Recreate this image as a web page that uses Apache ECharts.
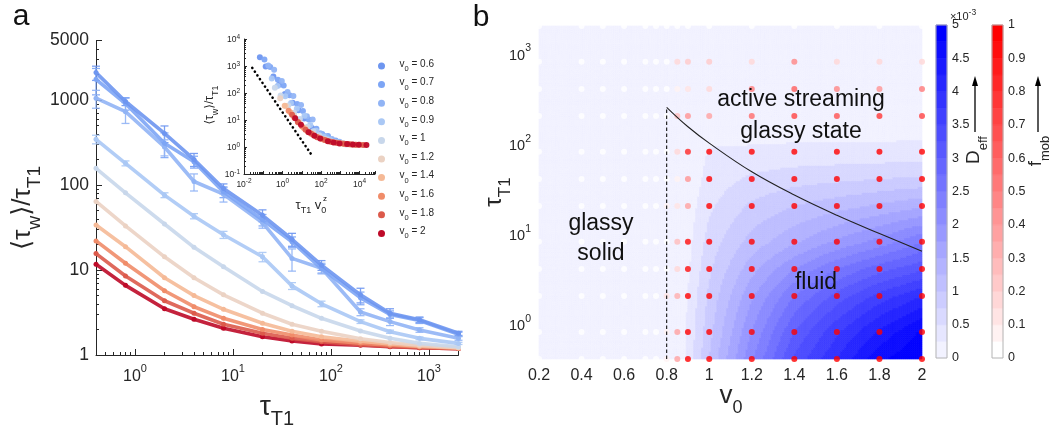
<!DOCTYPE html>
<html>
<head>
<meta charset="utf-8">
<script src="https://cdn.jsdelivr.net/npm/echarts@6/dist/echarts.min.js"></script>
<style>
  html, body { margin: 0; background: #fff; }
  #chart { width: 1053px; height: 435px; }
</style>
</head>
<body>
<div id="chart"></div>
<script>
// ---- panel a data ----
const tau = [0.4, 0.8, 2, 4, 8, 20, 40, 80, 200, 400, 800, 2000];
const v0Names = ['0.6', '0.7', '0.8', '0.9', '1', '1.2', '1.4', '1.6', '1.8', '2'];
const v0Colors = ['#6e96f0', '#7da5f5', '#91b4f5', '#aac8f5', '#c8d7eb',
                  '#ebd2c3', '#f5b996', '#f08c69', '#dc5a4b', '#be0a28'];

const tw_06 = [2100, 960, 405, 200, 91, 44, 23, 11.4, 5.1, 3.1, 2.6, 1.8];
const tw_07 = [1750, 910, 310, 188, 83, 39, 21.5, 10.4, 4.7, 3.0, 2.55, 1.75];
const tw_08 = [1050, 730, 280, 110, 78, 36, 13.7, 10.5, 3.2, 2.47, 1.97, 1.57];
const tw_09 = [345, 180, 76, 43, 26, 14.3, 6.5, 4.0, 2.47, 1.88, 1.57, 1.37];
const tw_1  = [157, 81, 34.8, 18.5, 10.9, 5.6, 3.8, 2.7, 1.92, 1.57, 1.37, 1.25];
const tw_12 = [64, 33, 14.3, 8.1, 5.1, 3.1, 2.3, 1.9, 1.55, 1.4, 1.3, 1.22];
const tw_14 = [33.8, 18.8, 8.1, 5.0, 3.45, 2.36, 1.9, 1.64, 1.45, 1.35, 1.27, 1.21];
const tw_16 = [22, 12, 5.7, 3.7, 2.7, 2.0, 1.72, 1.5, 1.38, 1.3, 1.25, 1.2];
const tw_18 = [15.6, 8.5, 4.35, 3.1, 2.3, 1.8, 1.57, 1.43, 1.32, 1.26, 1.22, 1.19];
const tw_2  = [11.7, 6.6, 3.5, 2.63, 2.06, 1.64, 1.46, 1.35, 1.3, 1.25, 1.22, 1.19];

// error bars (absolute, +/-) for the glassy-side curves
const err_06 = [400, 100, 90, 35, 12, 7, 4, 1.5, 1.0, 0.4, 0.2, 0.1];
const err_07 = [600, 150, 100, 30, 12, 6, 3, 1.2, 0.8, 0.3, 0.2, 0.1];
const err_08 = [250, 200, 60, 25, 15, 5, 4, 1.5, 0.3, 0.25, 0.12, 0.08];
const err_09 = [40, 12, 5, 3, 2.5, 1.8, 0.6, 0.3, 0.12, 0.08, 0.06, 0.04];

const twAll = [tw_06, tw_07, tw_08, tw_09, tw_1, tw_12, tw_14, tw_16, tw_18, tw_2];
const errAll = [err_06, err_07, err_08, err_09];

// inset: collapse tau_T1 * v0^z
const zExp = 3.5;
const guideX = [0.027, 30];
const guideY = [850, 0.55];

// ---- panel b data ----
const v0Grid = [0.2, 0.4, 0.5, 0.6, 0.7, 0.75, 0.8, 0.85, 0.9, 1, 1.2, 1.4, 1.6, 1.8, 2];
// D_eff (x1e-3), one row per tau value (ascending)
const deff = [
  [0, 0, 0, 0, 0, 0, 0, 0, 0.3, 1.0, 2.2, 3.3, 4.0, 4.7, 5.0],
  [0, 0, 0, 0, 0, 0, 0, 0, 0.3, 0.9, 2.0, 3.0, 3.7, 4.3, 4.8],
  [0, 0, 0, 0, 0, 0, 0, 0, 0.25, 0.8, 1.7, 2.5, 3.1, 3.6, 4.0],
  [0, 0, 0, 0, 0, 0, 0, 0, 0.2, 0.7, 1.4, 2.0, 2.5, 2.9, 3.2],
  [0, 0, 0, 0, 0, 0, 0, 0, 0.15, 0.6, 1.1, 1.45, 1.8, 2.1, 2.5],
  [0, 0, 0, 0, 0, 0, 0, 0, 0.1, 0.45, 0.8, 1.0, 1.15, 1.3, 1.45],
  [0, 0, 0, 0, 0, 0, 0, 0, 0.05, 0.35, 0.55, 0.65, 0.7, 0.75, 0.8],
  [0, 0, 0, 0, 0, 0, 0, 0, 0, 0.28, 0.3, 0.32, 0.33, 0.33, 0.35],
  [0, 0, 0, 0, 0, 0, 0, 0, 0, 0.05, 0.05, 0.05, 0.05, 0.05, 0.05],
  [0, 0, 0, 0, 0, 0, 0, 0, 0, 0, 0, 0, 0, 0, 0],
  [0, 0, 0, 0, 0, 0, 0, 0, 0, 0, 0, 0, 0, 0, 0],
  [0, 0, 0, 0, 0, 0, 0, 0, 0, 0, 0, 0, 0, 0, 0]
];
// f_mob, one row per tau value (ascending)
const fmob = [
  [0, 0, 0, 0, 0, 0, 0.08, 0.35, 1, 1, 1, 1, 1, 1, 1],
  [0, 0, 0, 0, 0, 0, 0.05, 0.35, 1, 1, 1, 1, 1, 1, 1],
  [0, 0, 0, 0, 0, 0, 0.12, 0.3, 0.95, 1, 1, 1, 1, 1, 1],
  [0, 0, 0, 0, 0, 0, 0.03, 0.15, 0.9, 1, 1, 1, 1, 1, 1],
  [0, 0, 0, 0, 0, 0, 0.03, 0.25, 0.9, 1, 1, 1, 1, 1, 1],
  [0, 0, 0, 0, 0, 0, 0.06, 0.12, 0.35, 1, 1, 1, 1, 1, 1],
  [0, 0, 0, 0, 0, 0, 0.03, 0.08, 0.4, 1, 1, 1, 1, 1, 1],
  [0, 0, 0, 0, 0, 0, 0.02, 0.15, 0.8, 1, 1, 1, 1, 1, 1],
  [0, 0, 0, 0, 0, 0, 0.02, 0.25, 0.4, 0.35, 0.55, 0.7, 0.65, 0.75, 0.7],
  [0, 0, 0, 0, 0, 0, 0, 0.08, 0.12, 0.15, 0.5, 0.6, 0.45, 0.4, 0.5],
  [0, 0, 0, 0, 0, 0, 0, 0.15, 0.2, 0.2, 0.15, 0.45, 0.15, 0.15, 0.15],
  [0, 0, 0, 0, 0, 0, 0, 0, 0, 0, 0, 0, 0, 0, 0]
];
const boundaryV0  = [0.8, 0.9, 1.0, 1.2, 1.4, 1.6, 1.8, 2.0];
const boundaryTau = [250, 152, 100, 48, 26.5, 15.8, 9.9, 6.3];
const glassLineTau = [0.4, 250];

const deffTicks = [0, 5];
const fmobTicks = [0, 1];
const nBands = 20;

// ---- helpers ----
const FONT = '"Liberation Sans", Arial, "DejaVu Sans", sans-serif';
const INK = '#262626';

function blueOf(t) {
  const c = Math.round(255 * (1 - t));
  return 'rgb(' + c + ',' + c + ',255)';
}
function redOf(t) {
  const c = Math.round(255 * (1 - t));
  return 'rgb(255,' + c + ',' + c + ')';
}
function deffColor(v) {
  const k = Math.min(nBands - 1, Math.max(0, Math.floor(v / (deffTicks[1] / nBands))));
  return blueOf((k + 1) / nBands);
}
function fmobColor(f) {
  const k = Math.min(nBands - 1, Math.max(0, Math.floor(f * nBands)));
  return redOf(k / (nBands - 1));
}
function supRich(b, p) {
  return {
    b: { fontSize: b, fontFamily: FONT, color: INK, verticalAlign: 'bottom', lineHeight: Math.round(b * 1.35) },
    p: { fontSize: p, fontFamily: FONT, color: INK, verticalAlign: 'top', lineHeight: p }
  };
}
function pow10Label(v) {
  const e = Math.round(Math.log10(v));
  return '{b|10}{p|' + e + '}';
}

// ---- series: panel a ----
const series = [];
twAll.forEach((arr, s) => {
  series.push({
    name: v0Names[s], type: 'line', xAxisIndex: 0, yAxisIndex: 0,
    data: tau.map((t, k) => [t, arr[k]]),
    symbol: 'circle', symbolSize: 5,
    itemStyle: { color: v0Colors[s] },
    lineStyle: { width: 3.6, color: v0Colors[s], opacity: 0.9 },
    z: 3 + (10 - s) * 0.01
  });
});
errAll.forEach((errs, s) => {
  series.push({
    type: 'custom', xAxisIndex: 0, yAxisIndex: 0,
    data: tau.map((t, k) => [t, twAll[s][k], errs[k]]),
    renderItem: (params, api) => {
      const x = api.value(0), y = api.value(1), e = api.value(2);
      const top = api.coord([x, y + e]);
      const bot = api.coord([x, Math.max(y - e, 1.01)]);
      const w = 4;
      const st = { stroke: v0Colors[s], lineWidth: 1.3, opacity: 0.9 };
      return {
        type: 'group', children: [
          { type: 'line', shape: { x1: top[0], y1: top[1], x2: bot[0], y2: bot[1] }, style: st },
          { type: 'line', shape: { x1: top[0] - w, y1: top[1], x2: top[0] + w, y2: top[1] }, style: st },
          { type: 'line', shape: { x1: bot[0] - w, y1: bot[1], x2: bot[0] + w, y2: bot[1] }, style: st }
        ]
      };
    },
    z: 2
  });
});
// inset
series.push({
  type: 'line', xAxisIndex: 1, yAxisIndex: 1,
  data: guideX.map((x, k) => [x, guideY[k]]),
  symbol: 'none',
  lineStyle: { color: '#000', width: 2.6, type: [0.1, 4.4], cap: 'round' },
  z: 3
});
twAll.forEach((arr, s) => {
  const v = parseFloat(v0Names[s]);
  series.push({
    name: v0Names[s], type: 'scatter', xAxisIndex: 1, yAxisIndex: 1,
    data: tau.map((t, k) => [t * Math.pow(v, zExp), arr[k]]),
    symbolSize: 6,
    itemStyle: { color: v0Colors[s], opacity: 0.95 },
    z: 4 + s * 0.01
  });
});

// ---- series: panel b ----
const cellItems = [];
for (let j = 0; j < tau.length - 1; j++)
  for (let i = 0; i < v0Grid.length - 1; i++)
    cellItems.push([v0Grid[i], tau[j], i, j]);

series.push({
  type: 'custom', xAxisIndex: 2, yAxisIndex: 2,
  data: cellItems,
  encode: { x: 0, y: 1 },
  silent: true,
  renderItem: (params, api) => {
    const i = api.value(2), j = api.value(3);
    const xa = v0Grid[i], xb = v0Grid[i + 1];
    const la = Math.log10(tau[j]), lb = Math.log10(tau[j + 1]);
    const c00 = deff[j][i], c10 = deff[j][i + 1], c01 = deff[j + 1][i], c11 = deff[j + 1][i + 1];
    const P0 = api.coord([xa, tau[j]]), P1 = api.coord([xb, tau[j + 1]]);
    const Nx = Math.max(2, Math.ceil(Math.abs(P1[0] - P0[0]) / 2));
    const Ny = Math.max(2, Math.ceil(Math.abs(P0[1] - P1[1]) / 2));
    const kids = [];
    for (let p = 0; p < Nx; p++) {
      for (let q = 0; q < Ny; q++) {
        const u = (p + 0.5) / Nx, w = (q + 0.5) / Ny;
        const val = c00 * (1 - u) * (1 - w) + c10 * u * (1 - w) + c01 * (1 - u) * w + c11 * u * w;
        const A = api.coord([xa + (xb - xa) * p / Nx, Math.pow(10, la + (lb - la) * q / Ny)]);
        const B = api.coord([xa + (xb - xa) * (p + 1) / Nx, Math.pow(10, la + (lb - la) * (q + 1) / Ny)]);
        const col = deffColor(val);
        kids.push({
          type: 'rect',
          shape: { x: A[0], y: B[1], width: B[0] - A[0], height: A[1] - B[1] },
          style: { fill: col, stroke: col, lineWidth: 0.7 }
        });
      }
    }
    return { type: 'group', children: kids };
  },
  z: 1
});
const dots = [];
tau.forEach((t, j) => v0Grid.forEach((v, i) => dots.push([v, t, fmob[j][i]])));
series.push({
  type: 'scatter', xAxisIndex: 2, yAxisIndex: 2,
  data: dots, symbolSize: 6,
  itemStyle: { color: p => fmobColor(p.data[2]) },
  z: 3
});
series.push({
  type: 'line', xAxisIndex: 2, yAxisIndex: 2,
  data: boundaryV0.map((v, k) => [v, boundaryTau[k]]),
  smooth: 0.4, symbol: 'none',
  lineStyle: { color: '#222', width: 1.1 }, z: 4
});
series.push({
  type: 'line', xAxisIndex: 2, yAxisIndex: 2,
  data: glassLineTau.map(t => [boundaryV0[0], t]),
  symbol: 'none',
  lineStyle: { color: '#111', width: 1.1, type: [3.5, 2.5] }, z: 4
});

// ---- colorbars ----
function bandItems(maxV) {
  const out = [];
  for (let k = 0; k < nBands; k++) out.push([k * maxV / nBands, (k + 1) * maxV / nBands, k]);
  return out;
}
function colorbarSeries(axisIdx, maxV, colorFn) {
  return [{
    type: 'custom', xAxisIndex: axisIdx, yAxisIndex: axisIdx,
    data: bandItems(maxV), encode: { y: 0 },
    renderItem: (params, api) => {
      const A = api.coord([0, api.value(0)]);
      const B = api.coord([1, api.value(1)]);
      const col = colorFn(api.value(2));
      return { type: 'rect', shape: { x: A[0], y: B[1], width: B[0] - A[0], height: A[1] - B[1] },
               style: { fill: col, stroke: col, lineWidth: 0.6 } };
    }
  }, {
    type: 'custom', xAxisIndex: axisIdx, yAxisIndex: axisIdx,
    data: [[0, maxV]], encode: { y: 1 },
    renderItem: (params, api) => {
      const A = api.coord([0, 0]);
      const B = api.coord([1, maxV]);
      return { type: 'rect', shape: { x: A[0], y: B[1], width: B[0] - A[0], height: A[1] - B[1] },
               style: { fill: 'none', stroke: '#b4b4b4', lineWidth: 1 } };
    },
    z: 5
  }];
}
series.push(...colorbarSeries(3, deffTicks[1], k => blueOf((k + 1) / nBands)));
series.push(...colorbarSeries(4, fmobTicks[1], k => redOf(k / (nBands - 1))));

// ---- axes ----
const logMain = {
  type: 'log', logBase: 10,
  splitLine: { show: false },
  axisLine: { show: true, lineStyle: { color: INK, width: 1 } },
  axisTick: { show: true, inside: true, length: 6, lineStyle: { color: INK } },
  minorTick: { show: true, splitNumber: 9, length: 3, lineStyle: { color: INK } },
  minorSplitLine: { show: false }
};

const xAxes = [
  Object.assign({}, logMain, {
    gridIndex: 0, min: 0.4, max: 2000,
    axisLabel: { showMinLabel: false, showMaxLabel: false, formatter: pow10Label, rich: supRich(16, 11), margin: 8 }
  }),
  Object.assign({}, logMain, {
    gridIndex: 1, min: 0.01, max: Math.pow(10, 4.8),
    axisTick: { show: true, inside: true, length: 3, lineStyle: { color: INK } },
    minorTick: { show: true, splitNumber: 9, length: 2, lineStyle: { color: INK } },
    axisLabel: {
      showMaxLabel: false, margin: 4, rich: supRich(8.5, 6.5),
      formatter: v => { const e = Math.round(Math.log10(v)); return e % 2 === 0 ? pow10Label(v) : ''; }
    }
  }),
  {
    gridIndex: 2, type: 'value', min: 0.2, max: 2, interval: 0.2,
    axisLine: { show: false }, axisTick: { show: false }, splitLine: { show: false },
    axisLabel: { fontSize: 16, fontFamily: FONT, color: INK, margin: 9, formatter: v => String(+v.toFixed(1)) }
  },
  { gridIndex: 3, type: 'value', min: 0, max: 1, show: false },
  { gridIndex: 4, type: 'value', min: 0, max: 1, show: false }
];

const yAxes = [
  Object.assign({}, logMain, {
    gridIndex: 0, min: 1, max: 5000,
    axisLabel: { fontSize: 17.5, fontFamily: FONT, color: INK, margin: 7, showMaxLabel: true, formatter: v => String(Math.round(v)) }
  }),
  Object.assign({}, logMain, {
    gridIndex: 1, min: 0.1, max: 10000,
    axisTick: { show: true, inside: true, length: 3, lineStyle: { color: INK } },
    minorTick: { show: true, splitNumber: 9, length: 2, lineStyle: { color: INK } },
    axisLabel: { margin: 4, rich: supRich(8.5, 6.5), formatter: pow10Label }
  }),
  {
    gridIndex: 2, type: 'log', logBase: 10, min: 0.4, max: 2000,
    axisLine: { show: false }, axisTick: { show: false }, splitLine: { show: false },
    minorTick: { show: false },
    axisLabel: { showMinLabel: false, showMaxLabel: false, margin: 8, rich: supRich(14.5, 10.5), formatter: pow10Label }
  },
  {
    gridIndex: 3, type: 'value', min: 0, max: deffTicks[1], interval: 0.5, position: 'right',
    axisLine: { show: false }, axisTick: { show: false }, splitLine: { show: false },
    axisLabel: { fontSize: 12.5, fontFamily: FONT, color: INK, margin: 5 }
  },
  {
    gridIndex: 4, type: 'value', min: 0, max: fmobTicks[1], interval: 0.1, position: 'right',
    axisLabel: { fontSize: 12.5, fontFamily: FONT, color: INK, margin: 5, formatter: v => String(+v.toFixed(1)) },
    axisLine: { show: false }, axisTick: { show: false }, splitLine: { show: false }
  }
];

// ---- annotations ----
function txt(x, y, text, size, rich, extra) {
  return Object.assign({
    type: 'text', x: x, y: y, z: 100,
    style: { text: text, fontSize: size, fontFamily: FONT, fill: '#111', align: 'center', verticalAlign: 'middle', rich: rich || {} }
  }, extra || {});
}
function subRich(b, s, color) {
  return {
    b: { fontSize: b, fontFamily: FONT, fill: color || INK, verticalAlign: 'top', lineHeight: Math.round(b * 1.3) },
    s: { fontSize: s, fontFamily: FONT, fill: color || INK, verticalAlign: 'bottom', lineHeight: s }
  };
}
function arrow(x, y1, y2) {
  return {
    type: 'group', z: 100, children: [
      { type: 'line', shape: { x1: x, y1: y1, x2: x, y2: y2 + 8 }, style: { stroke: '#000', lineWidth: 1.3 } },
      { type: 'polygon', shape: { points: [[x, y2], [x - 3, y2 + 10], [x + 3, y2 + 10]] }, style: { fill: '#000' } }
    ]
  };
}

const graphic = [
  txt(21, 17, 'a', 30),
  txt(481, 18, 'b', 30),
  txt(27, 208, '{b|⟨τ}{s|w}{b|⟩/τ}{s|T1}', 24, subRich(26, 19), { rotation: Math.PI / 2 }),
  txt(277, 411, '{b|τ}{s|T1}', 26, subRich(28, 20)),
  txt(212, 105, '{b|⟨τ}{s|w}{b|⟩/τ}{s|T1}', 11, subRich(12, 9), { rotation: Math.PI / 2 }),
  txt(311, 207, '{b|τ}{s|T1}{b| v}{s|0}', 12, subRich(13, 9)),
  txt(325, 199, 'z', 8),
  txt(498, 192, '{b|τ}{s|T1}', 22, subRich(24, 17), { rotation: Math.PI / 2 }),
  txt(731, 400, '{b|v}{s|0}', 24, subRich(26, 18)),
  txt(801, 100, 'active streaming', 23),
  txt(801, 132, 'glassy state', 23),
  txt(601, 224, 'glassy', 23),
  txt(601, 254, 'solid', 23),
  txt(816, 283, 'fluid', 23),
  txt(963, 15, '{a|×10}{p|-3}', 10, {
    a: { fontSize: 11, fontFamily: FONT, fill: INK, verticalAlign: 'bottom', lineHeight: 14 },
    p: { fontSize: 8.5, fontFamily: FONT, fill: INK, verticalAlign: 'top', lineHeight: 9 }
  }),
  arrow(975, 132, 76),
  arrow(1038, 132, 76),
  txt(977, 150, '{b|D}{s|eff}', 18, subRich(19, 13), { rotation: Math.PI / 2 }),
  txt(1039, 151, '{b|f}{s|mob}', 18, subRich(19, 13), { rotation: Math.PI / 2 })
];

const option = {
  animation: false,
  backgroundColor: '#fff',
  textStyle: { fontFamily: FONT },
  grid: [
    { left: 96, top: 40.6, width: 362.5, height: 314.4 },
    { left: 244, top: 39, width: 131, height: 135 },
    { left: 539, top: 26, width: 383, height: 333 },
    { left: 936, top: 25, width: 11, height: 333 },
    { left: 992, top: 25, width: 11, height: 333 }
  ],
  xAxis: xAxes,
  yAxis: yAxes,
  legend: {
    data: v0Names,
    orient: 'vertical', left: 373, top: 54,
    icon: 'circle', itemWidth: 26, itemHeight: 7, itemGap: 4.6,
    selectedMode: false,
    formatter: n => '{b|v}{s|0}{b| = ' + n + '}',
    textStyle: {
      fontSize: 10, color: INK, lineHeight: 14,
      rich: {
        b: { fontSize: 10, fontFamily: FONT, color: INK, verticalAlign: 'top', lineHeight: 14 },
        s: { fontSize: 7.5, fontFamily: FONT, color: INK, verticalAlign: 'bottom', lineHeight: 9 }
      }
    }
  },
  graphic: graphic,
  series: series
};

const chart = echarts.init(document.getElementById('chart'), null, { renderer: 'canvas' });
chart.setOption(option);
</script>
</body>
</html>
